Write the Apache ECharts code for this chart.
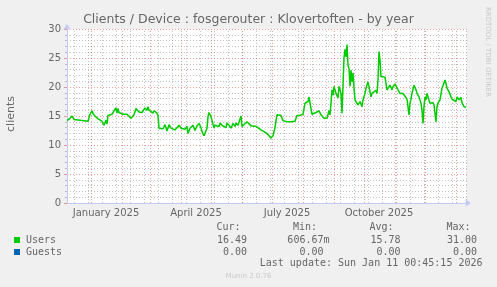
<!DOCTYPE html>
<html><head><meta charset="utf-8">
<script src="https://cdn.jsdelivr.net/npm/echarts@6/dist/echarts.min.js"></script>
<style>html,body{margin:0;padding:0;background:#f0f0f0}#c{width:497px;height:287px}</style>
</head><body><div id="c"></div>
<script>
// ---- data ----
const titleText = 'Clients / Device : fosgerouter : Klovertoften - by year';
const yAxisTitle = 'clients';
const startYear = 2024, startMonth = 11, startDay = 8; // 2024-12-08
const dayCount = 401;
const monthNames = ['January','February','March','April','May','June','July','August','September','October','November','December'];
const yTicks = [0, 5, 10, 15, 20, 25, 30];

// day offsets from the start date, and the Users value at that day
const userDays = [
  0,3,5,7,9,21,23,25,26,28,
  30,31,33,35,36,37,39,40,41,43,
  45,47,49,50,51,52,53,56,60,62,
  64,65,67,69,70,72,73,75,76,78,
  80,81,82,84,86,87,90,91,92,94,
  96,98,100,102,104,106,108,110,112,114,
  116,118,120,121,123,126,128,130,132,134,
  135,137,139,140,141,142,144,145,147,148,
  150,152,153,155,157,159,160,162,164,166,
  168,169,171,172,174,175,177,180,182,184,
  186,189,191,194,196,197,200,202,204,205,
  206,208,209,210,212,214,216,218,220,224,
  228,230,231,233,235,236,238,239,241,242,
  244,245,246,249,250,252,254,256,257,259,
  260,262,263,264,265,266,267,269,270,271,
  272,274,275,276,277,278,279,280,281,282,
  283,284,285,286,287,288,290,291,293,295,
  296,298,299,301,303,304,305,307,309,310,
  311,312,313,314,316,318,320,321,323,325,
  326,328,330,331,333,335,336,338,340,341,
  342,343,344,345,347,349,350,352,354,355,
  356,357,358,359,360,361,363,364,366,367,
  369,370,371,373,375,376,378,379,380,382,
  384,385,387,389,390,392,394,395,397,398,
  399
];
const userValues = [
  14.2,14.6,15.0,14.4,14.1,14.1,15.3,15.9,15.4,15.0,
  15.1,14.5,14.8,14.1,13.9,13.4,14.3,13.6,15.1,15.1,
  15.3,15.9,16.4,15.5,16.3,15.6,15.5,15.3,15.3,15.3,
  14.6,14.5,15.2,16.3,16.6,15.7,16.0,15.6,15.4,16.4,
  16.0,16.6,16.0,16.3,15.5,15.9,15.5,15.1,12.9,12.6,
  12.8,13.5,12.4,13.5,12.9,13.2,12.6,12.9,13.4,12.9,
  13.2,12.7,13.2,12.0,12.9,13.4,12.5,13.3,13.7,13.0,
  12.3,11.6,11.7,12.9,14.9,15.6,14.9,15.2,12.9,13.4,
  13.6,13.2,13.8,13.4,13.6,13.0,13.8,13.4,12.9,13.7,
  13.2,13.8,13.4,13.6,15.0,13.2,13.4,14.0,13.9,13.3,
  13.5,13.2,13.4,12.6,12.9,12.3,12.0,11.7,11.2,11.4,
  11.6,13.0,14.2,15.2,15.4,15.1,14.2,14.0,14.0,14.0,
  14.1,15.1,15.0,15.1,15.2,15.3,17.2,16.9,17.5,18.3,
  18.5,15.3,15.0,15.6,15.3,15.9,15.2,14.9,14.6,14.9,
  14.6,15.9,15.2,17.2,19.5,18.6,20.1,18.9,19.2,18.1,
  20.1,18.9,15.5,20.3,25.0,26.5,25.2,27.3,23.8,23.2,
  20.1,22.9,20.9,22.4,19.8,17.8,17.5,16.9,17.5,16.6,
  17.8,18.9,19.8,20.9,20.6,18.3,18.9,18.6,19.4,18.9,
  21.2,26.1,24.7,21.8,21.5,21.7,19.5,19.6,20.3,19.5,
  20.1,20.5,20.2,19.5,18.9,19.2,18.9,18.4,17.9,16.6,
  15.2,17.2,17.9,18.9,20.3,19.5,18.9,18.3,17.2,16.0,
  13.7,16.6,18.3,17.8,18.9,18.3,17.2,17.5,17.3,16.9,
  14.0,16.6,17.2,17.8,19.8,20.1,21.2,20.6,19.8,19.2,
  18.3,17.9,18.1,17.5,18.3,17.8,18.2,17.3,16.6,16.9,
  16.5
];

// legend table
const legendNames = ['Users', 'Guests'];
const legendColors = ['#00cc00', '#0066b3'];
const statHeaders = ['Cur:', 'Min:', 'Avg:', 'Max:'];
const curValues = ['16.49', '0.00'];
const minValues = ['606.67m', '0.00 '];
const avgValues = ['15.78', '0.00'];
const maxValues = ['31.00', '0.00'];
const lastUpdate = 'Last update: Sun Jan 11 00:45:15 2026';
const watermark = 'RRDTOOL / TOBI OETIKER';
const footer = 'Munin 2.0.76';

// ---- build ----
const categories = [];
const t0 = Date.UTC(startYear, startMonth, startDay);
for (let i = 0; i < dayCount; i++) {
  categories.push(new Date(t0 + i * 86400000).toISOString().slice(0, 10));
}
const userData = userDays.map((d, i) => [categories[d], userValues[i]]);
const monthStarts = categories.filter(c => c.slice(8) === '01');
const fortnights = categories.filter((c, i) => i % 14 === 7);

const isQuarterLabel = (idx, val) => {
  const v = String(val);
  const m = +v.slice(5, 7);
  return v.slice(8) === '16' && (m === 1 || m === 4 || m === 7 || m === 10);
};

const FONT = '#666666';
const AXIS = '#c2caf4';
const MGRID = 'rgba(222,79,79,0.55)';
const GRID = 'rgba(143,143,143,0.55)';
const SANS = 'DejaVu Sans';

const graphic = [
  { type: 'text', x: 248.5, y: 19.5, silent: true,
    style: { text: titleText, fill: FONT, font: '12.5px "DejaVu Sans"', align: 'center', verticalAlign: 'middle' } },
  { type: 'text', x: 11, y: 114, rotation: Math.PI / 2, silent: true,
    style: { text: yAxisTitle, fill: FONT, font: '11px "DejaVu Sans"', align: 'center', verticalAlign: 'middle' } },
  { type: 'text', x: 487.5, y: 52, rotation: -Math.PI / 2, silent: true,
    style: { text: watermark, fill: '#c8c8c8', font: '7px "DejaVu Sans"', align: 'center', verticalAlign: 'middle' } },
  { type: 'text', x: 248.5, y: 276, silent: true,
    style: { text: footer, fill: '#c8c8c8', font: '7px "DejaVu Sans"', align: 'center', verticalAlign: 'middle' } },
  { type: 'text', x: 482.5, y: 263.5, silent: true,
    style: { text: lastUpdate, fill: FONT, font: '10px "DejaVu Sans Mono"', align: 'right', verticalAlign: 'middle' } }
];
const headerRight = [240.5, 317, 393.5, 470.5];
const valueRight = [247, 329.5, 400.5, 477];
statHeaders.forEach((h, i) => graphic.push({ type: 'text', x: headerRight[i], y: 227.5, silent: true,
  style: { text: h, fill: FONT, font: '10px "DejaVu Sans Mono"', align: 'right', verticalAlign: 'middle' } }));
const cols = [curValues, minValues, avgValues, maxValues];
legendNames.forEach((n, r) => {
  const y = 240 + r * 12;
  graphic.push({ type: 'rect', silent: true, shape: { x: 14, y: y - 3, width: 6, height: 6 }, style: { fill: legendColors[r] } });
  graphic.push({ type: 'text', x: 26, y: y, silent: true,
    style: { text: n, fill: FONT, font: '10px "DejaVu Sans Mono"', align: 'left', verticalAlign: 'middle' } });
  cols.forEach((c, i) => {
    let t = c[r], xr = valueRight[i];
    if (i === 1 && t.endsWith(' ')) { t = t.trim(); xr -= 6.02; }
    graphic.push({ type: 'text', x: xr, y: y, silent: true,
      style: { text: t, fill: FONT, font: '10px "DejaVu Sans Mono"', align: 'right', verticalAlign: 'middle' } });
  });
});

const gridLineSeries = (name, values, color) => ({
  name: name, type: 'line', data: [], silent: true, z: 1,
  markLine: {
    silent: true, symbol: ['none', 'none'], label: { show: false }, animation: false,
    lineStyle: { color: color, type: [1, 2], width: 1 },
    emphasis: { disabled: true },
    data: values.map(v => ({ xAxis: v }))
  }
});

const chart = echarts.init(document.getElementById('c'), null, { renderer: 'canvas' });
chart.setOption({
  animation: false,
  backgroundColor: '#f0f0f0',
  grid: { left: 67, right: 30, top: 29, bottom: 84, show: true, backgroundColor: '#ffffff', borderWidth: 0 },
  xAxis: {
    type: 'category', data: categories, boundaryGap: false, position: 'bottom',
    axisLine: { show: true, lineStyle: { color: AXIS, width: 1 }, symbol: ['none', 'arrow'], symbolSize: [6, 6], symbolOffset: [0, 4] },
    axisTick: { show: false },
    axisLabel: { show: true, interval: isQuarterLabel, margin: 5, color: FONT, fontFamily: SANS, fontSize: 10,
      formatter: v => monthNames[+v.slice(5, 7) - 1] + ' ' + v.slice(0, 4) },
    splitLine: { show: false }
  },
  yAxis: {
    type: 'value', min: yTicks[0], max: yTicks[yTicks.length - 1], interval: 5,
    axisLine: { show: true, lineStyle: { color: AXIS, width: 1 }, symbol: ['none', 'arrow'], symbolSize: [6, 6], symbolOffset: [0, 5] },
    axisTick: { show: true, length: 3, lineStyle: { color: MGRID } },
    minorTick: { show: true, splitNumber: 5, length: 2, lineStyle: { color: GRID } },
    axisLabel: { color: FONT, fontFamily: SANS, fontSize: 10, margin: 6 },
    splitLine: { show: true, lineStyle: { color: MGRID, type: [1, 2], width: 1 } },
    minorSplitLine: { show: true, lineStyle: { color: GRID, type: [1, 2], width: 1 } }
  },
  series: [
    gridLineSeries('minorGrid', fortnights, GRID),
    gridLineSeries('monthGrid', monthStarts, MGRID),
    { name: 'Users', type: 'line', data: userData, showSymbol: false, symbol: 'none',
      lineStyle: { color: '#00cc00', width: 1.5 }, z: 5 }
  ],
  graphic: graphic
});
</script></body></html>
